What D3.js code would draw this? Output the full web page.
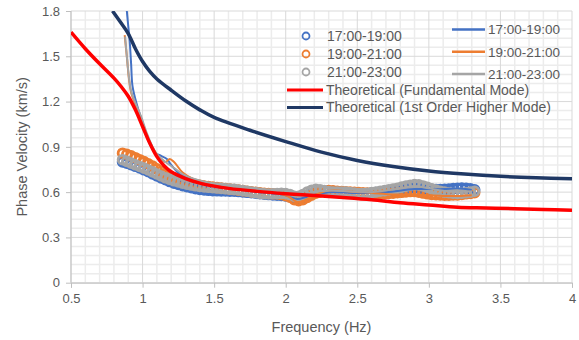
<!DOCTYPE html>
<html><head><meta charset="utf-8">
<script src="https://cdn.jsdelivr.net/npm/d3@7"></script>
<style>
body{margin:0;background:#fff;}
text{font-family:"Liberation Sans",Arial,sans-serif;fill:#595959;}
</style></head>
<body><svg id="c" width="579" height="340"></svg>
<script>
// ---------- data ----------
const xTicks = [0.5,1,1.5,2,2.5,3,3.5,4];
const xTickLabels = ["0.5","1","1.5","2","2.5","3","3.5","4"];
const yTicks = [0,0.3,0.6,0.9,1.2,1.5,1.8];
const yTickLabels = ["0","0.3","0.6","0.9","1.2","1.5","1.8"];
const seriesNames = ["17:00-19:00","19:00-21:00","21:00-23:00"];

const scatterFreq = [0.86,0.89,0.92,0.95,0.98,1.01,1.04,1.07,1.10,1.13,1.16,1.19,1.22,1.25,1.28,1.31,1.34,1.37,1.40,1.43,1.46,1.49,1.52,1.55,1.58,1.61,1.64,1.67,1.70,1.73,1.76,1.79,1.82,1.85,1.88,1.91,1.94,1.97,2.00,2.03,2.06,2.09,2.12,2.15,2.18,2.21,2.24,2.27,2.30,2.33,2.36,2.39,2.42,2.45,2.48,2.51,2.54,2.57,2.60,2.63,2.66,2.69,2.72,2.75,2.78,2.81,2.84,2.87,2.90,2.93,2.96,2.99,3.02,3.05,3.08,3.11,3.14,3.17,3.20,3.23,3.26,3.29,3.32];
const scatter1719 = [0.800,0.792,0.782,0.771,0.760,0.748,0.735,0.721,0.707,0.694,0.682,0.670,0.660,0.651,0.643,0.636,0.629,0.623,0.618,0.615,0.612,0.610,0.609,0.608,0.608,0.607,0.606,0.604,0.602,0.599,0.596,0.593,0.590,0.587,0.584,0.582,0.580,0.578,0.575,0.569,0.561,0.558,0.565,0.578,0.590,0.598,0.603,0.605,0.606,0.605,0.603,0.600,0.597,0.594,0.591,0.590,0.590,0.591,0.594,0.597,0.600,0.603,0.607,0.611,0.614,0.618,0.622,0.626,0.628,0.627,0.623,0.620,0.618,0.617,0.617,0.618,0.620,0.623,0.626,0.627,0.626,0.622,0.615];
const scatter1921 = [0.858,0.851,0.840,0.828,0.815,0.802,0.788,0.772,0.755,0.738,0.722,0.708,0.695,0.684,0.674,0.666,0.658,0.651,0.646,0.641,0.637,0.633,0.630,0.627,0.624,0.620,0.617,0.613,0.610,0.606,0.602,0.599,0.596,0.593,0.591,0.589,0.588,0.584,0.577,0.566,0.550,0.544,0.550,0.565,0.580,0.593,0.602,0.607,0.610,0.609,0.606,0.604,0.602,0.600,0.599,0.597,0.596,0.594,0.593,0.592,0.590,0.590,0.591,0.593,0.596,0.599,0.602,0.604,0.604,0.600,0.594,0.589,0.585,0.583,0.581,0.580,0.580,0.581,0.582,0.585,0.589,0.592,0.596];
const scatter2123 = [0.815,0.804,0.792,0.781,0.770,0.759,0.747,0.734,0.720,0.707,0.695,0.685,0.675,0.667,0.660,0.653,0.647,0.642,0.638,0.635,0.632,0.629,0.627,0.625,0.622,0.620,0.618,0.614,0.610,0.606,0.601,0.597,0.592,0.589,0.588,0.589,0.590,0.592,0.590,0.584,0.573,0.572,0.584,0.600,0.612,0.618,0.616,0.610,0.604,0.601,0.600,0.600,0.600,0.597,0.594,0.591,0.590,0.593,0.597,0.601,0.606,0.610,0.615,0.620,0.626,0.633,0.640,0.646,0.650,0.648,0.641,0.632,0.622,0.613,0.605,0.600,0.596,0.593,0.592,0.593,0.596,0.600,0.606];

const line1719Freq = [0.885,0.90,0.91,0.92,0.93,0.96,0.99,1.02,1.05,1.09,1.13,1.17,1.20,1.26,1.35,1.45,1.60,1.80,2.00,2.08,2.15,2.30,2.50,2.70,2.90,3.10,3.20,3.30];
const line1719Vel  = [1.85,1.70,1.60,1.45,1.30,1.18,1.09,0.99,0.92,0.86,0.84,0.82,0.78,0.72,0.68,0.66,0.63,0.60,0.58,0.555,0.57,0.60,0.595,0.60,0.62,0.62,0.625,0.615];
const line1921Freq = [0.875,0.89,0.905,0.92,0.95,0.99,1.03,1.07,1.12,1.16,1.19,1.22,1.28,1.35,1.45,1.60,1.80,1.95,2.02,2.08,2.13,2.20,2.30,2.45,2.60,2.75,2.90,3.00,3.10,3.20,3.30];
const line1921Vel  = [1.64,1.50,1.35,1.26,1.18,1.09,0.98,0.89,0.83,0.80,0.82,0.80,0.73,0.69,0.665,0.635,0.605,0.59,0.57,0.535,0.545,0.58,0.61,0.605,0.595,0.585,0.585,0.58,0.575,0.575,0.58];
const line2123Freq = [0.878,0.89,0.905,0.92,0.95,0.99,1.03,1.07,1.11,1.16,1.22,1.28,1.35,1.45,1.60,1.80,1.95,2.05,2.10,2.18,2.30,2.45,2.60,2.80,2.90,3.00,3.10,3.20,3.30];
const line2123Vel  = [1.63,1.50,1.36,1.27,1.19,1.10,0.99,0.90,0.84,0.80,0.76,0.72,0.69,0.665,0.64,0.61,0.595,0.575,0.57,0.60,0.61,0.605,0.60,0.625,0.64,0.625,0.61,0.60,0.605];

const fundFreq = [0.5,0.6,0.7,0.8,0.85,0.9,0.95,1.0,1.05,1.1,1.15,1.2,1.3,1.4,1.5,1.6,1.8,2.0,2.2,2.4,2.6,2.8,3.0,3.2,3.4,3.6,3.8,4.0];
const fundVel  = [1.66,1.55,1.45,1.355,1.30,1.235,1.145,1.035,0.925,0.835,0.775,0.735,0.69,0.66,0.64,0.625,0.605,0.59,0.578,0.565,0.55,0.53,0.515,0.50,0.495,0.49,0.485,0.48];
const highFreq = [0.79,0.85,0.9,0.95,1.0,1.05,1.1,1.2,1.3,1.4,1.5,1.75,2.0,2.25,2.5,2.75,3.0,3.25,3.5,3.75,4.0];
const highVel  = [1.80,1.72,1.65,1.55,1.465,1.40,1.35,1.275,1.205,1.145,1.095,1.01,0.935,0.865,0.81,0.77,0.74,0.72,0.705,0.695,0.688];

const colors = ["#4472C4","#ED7D31","#A5A5A5"];
const fundColor = "#FF0000", highColor = "#1F3864";

// ---------- chart ----------
const svg = d3.select("#c");
const L=71, R=572, T=11, B=282.7;
const x = d3.scaleLinear().domain([0.5,4]).range([L,R]);
const y = d3.scaleLinear().domain([0,1.8]).range([B,T]);

// minor grid
const xMinor = d3.range(5,41).map(d=>d/10).filter(v=>!xTicks.some(t=>Math.abs(t-v)<1e-6));
const yMinor = d3.range(0,31).map(d=>d*0.06).filter(v=>!yTicks.some(t=>Math.abs(t-v)<1e-6));
const g = svg.append("g");
g.selectAll(".xm").data(xMinor).enter().append("line")
 .attr("x1",d=>x(d)).attr("x2",d=>x(d)).attr("y1",T).attr("y2",B)
 .attr("stroke","#ececec").attr("stroke-width",1.5);
g.selectAll(".ym").data(yMinor).enter().append("line")
 .attr("y1",d=>y(d)).attr("y2",d=>y(d)).attr("x1",L).attr("x2",R)
 .attr("stroke","#ececec").attr("stroke-width",1.5);
g.selectAll(".xM").data(xTicks).enter().append("line")
 .attr("x1",d=>x(d)).attr("x2",d=>x(d)).attr("y1",T).attr("y2",B)
 .attr("stroke","#d9d9d9").attr("stroke-width",1);
g.selectAll(".yM").data(yTicks).enter().append("line")
 .attr("y1",d=>y(d)).attr("y2",d=>y(d)).attr("x1",L).attr("x2",R)
 .attr("stroke","#d9d9d9").attr("stroke-width",1);

// axes
const xAxis = d3.axisBottom(x).tickValues(xTicks).tickFormat((d,i)=>xTickLabels[i]).tickSize(5).tickPadding(6);
const yAxis = d3.axisLeft(y).tickValues(yTicks).tickFormat((d,i)=>yTickLabels[i]).tickSize(5).tickPadding(6);
const gx = svg.append("g").attr("transform",`translate(0,${B})`).call(xAxis);
const gy = svg.append("g").attr("transform",`translate(${L},0)`).call(yAxis);
[gx,gy].forEach(a=>{
  a.select(".domain").attr("stroke","#bfbfbf");
  a.selectAll(".tick line").attr("stroke","#bfbfbf");
  a.selectAll("text").attr("font-size","13px").attr("fill","#595959").attr("font-family","Liberation Sans, Arial, sans-serif");
});
gy.select(".domain").remove();
gy.append("line").attr("x1",0).attr("x2",0).attr("y1",T).attr("y2",B).attr("stroke","#bfbfbf");

// titles
svg.append("text").attr("x",(L+R)/2).attr("y",332).attr("text-anchor","middle").attr("font-size","14.5px").text("Frequency (Hz)");
svg.append("text").attr("transform",`translate(27,${(T+B)/2}) rotate(-90)`).attr("text-anchor","middle").attr("font-size","14.5px").text("Phase Velocity (km/s)");

// clip
svg.append("clipPath").attr("id","clip").append("rect").attr("x",L).attr("y",T).attr("width",R-L).attr("height",B-T);
const plot = svg.append("g").attr("clip-path","url(#clip)");

// scatter
[scatter1719,scatter1921,scatter2123].forEach((vals,i)=>{
  plot.append("g").selectAll("circle").data(vals).enter().append("circle")
   .attr("cx",(d,j)=>x(scatterFreq[j])).attr("cy",d=>y(d)).attr("r",4.4)
   .attr("fill","none").attr("stroke",colors[i]).attr("stroke-width",2.8);
});

// lines
const lineGenC = d3.line().x(d=>x(d[0])).y(d=>y(d[1])).curve(d3.curveCatmullRom);
[[line1719Freq,line1719Vel],[line1921Freq,line1921Vel],[line2123Freq,line2123Vel]].forEach((s,i)=>{
  plot.append("path").datum(s[0].map((f,j)=>[f,s[1][j]]))
   .attr("d",lineGenC).attr("fill","none").attr("stroke",colors[i]).attr("stroke-width",2);
});
plot.append("path").datum(fundFreq.map((f,j)=>[f,fundVel[j]])).attr("d",lineGenC)
 .attr("fill","none").attr("stroke",fundColor).attr("stroke-width",3.5);
plot.append("path").datum(highFreq.map((f,j)=>[f,highVel[j]])).attr("d",lineGenC)
 .attr("fill","none").attr("stroke",highColor).attr("stroke-width",3.5);

// legend
const lg = svg.append("g").attr("font-size","14px");
seriesNames.forEach((n,i)=>{
  const yy = 36 + i*18;
  lg.append("circle").attr("cx",306).attr("cy",yy).attr("r",3.5).attr("fill","none").attr("stroke",colors[i]).attr("stroke-width",1.8);
  lg.append("text").attr("x",327).attr("y",yy).attr("dy","0.35em").text(n);
});
[["Theoretical (Fundamental Mode)",fundColor],["Theoretical (1st Order Higher Mode)",highColor]].forEach((d,i)=>{
  const yy = 90 + i*17.5;
  lg.append("line").attr("x1",287).attr("x2",323).attr("y1",yy).attr("y2",yy).attr("stroke",d[1]).attr("stroke-width",3);
  lg.append("text").attr("x",326).attr("y",yy).attr("dy","0.35em").text(d[0]);
});
seriesNames.forEach((n,i)=>{
  const yy = 29.5 + i*22.3;
  lg.append("line").attr("x1",452).attr("x2",485).attr("y1",yy).attr("y2",yy).attr("stroke",colors[i]).attr("stroke-width",2.5);
  lg.append("text").attr("x",488).attr("y",yy).attr("dy","0.35em").attr("font-size","13.5px").text(n);
});
</script></body></html>
